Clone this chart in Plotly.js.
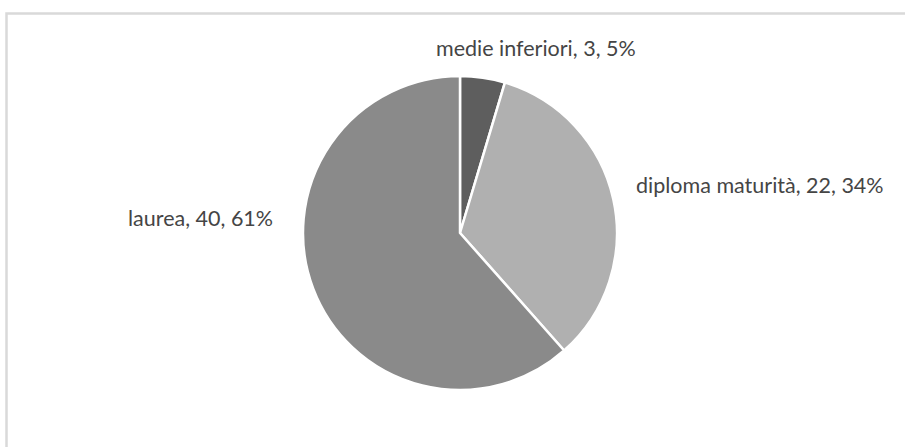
<!DOCTYPE html>
<html>
<head>
<meta charset="utf-8">
<script src="https://cdn.plot.ly/plotly-3.0.1.min.js"></script>
<style>
  html, body { margin: 0; padding: 0; background: #ffffff; }
  #chart { width: 905px; height: 447px; }
</style>
</head>
<body>
<div id="chart"></div>
<script>
// Data
const categories = ["medie inferiori", "diploma maturità", "laurea"];
const values = [3, 22, 40];
const percentLabels = ["5%", "34%", "61%"];
const sliceColors = ["#5e5e5e", "#b0b0b0", "#8a8a8a"];

// Label positions (paper coordinates) – layout only
const labelPos = [
  { x: 0.5928, y: 0.8926 },
  { x: 0.8398, y: 0.5861 },
  { x: 0.2210, y: 0.5123 }
];

const labelTexts = categories.map((c, i) =>
  c + ", " + values[i] + ", " + percentLabels[i]);

const W = 905, H = 447;
const cx = 460, cy = 233, r = 157;

const trace = {
  type: "pie",
  labels: categories,
  values: values,
  sort: false,
  direction: "clockwise",
  rotation: 0,
  textinfo: "none",
  hoverinfo: "label+value+percent",
  marker: { colors: sliceColors, line: { color: "#ffffff", width: 2.5 } },
  domain: {
    x: [(cx - r) / W, (cx + r) / W],
    y: [(H - cy - r) / H, (H - cy + r) / H]
  },
  showlegend: false
};

const annotations = labelTexts.map((t, i) => ({
  text: t,
  xref: "paper", yref: "paper",
  x: labelPos[i].x, y: labelPos[i].y,
  xanchor: "center", yanchor: "middle",
  showarrow: false,
  font: { family: "Lato, 'Open Sans', sans-serif", size: 21.5, color: "#454545" }
}));

const layout = {
  width: W, height: H,
  margin: { l: 0, r: 0, t: 0, b: 0 },
  paper_bgcolor: "#ffffff",
  showlegend: false,
  annotations: annotations,
  shapes: [{
    type: "rect", xref: "paper", yref: "paper",
    x0: 6.5 / W, x1: 1.2, y0: -0.2, y1: (H - 13.5) / H,
    line: { color: "#d9d9d9", width: 2.5 },
    fillcolor: "rgba(0,0,0,0)",
    layer: "below"
  }]
};

Plotly.newPlot("chart", [trace], layout, { displayModeBar: false, staticPlot: true });
</script>
</body>
</html>
